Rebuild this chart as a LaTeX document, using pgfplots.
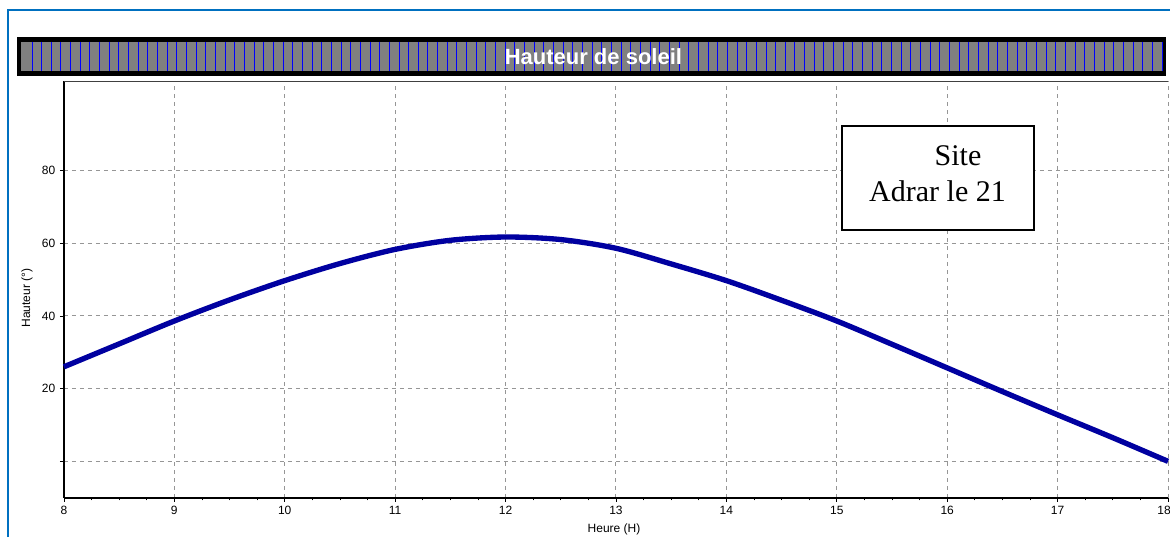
\documentclass[border=0pt]{standalone}
\usepackage{fontspec}
\setmainfont{Liberation Sans}
\newfontfamily\timesf{Liberation Serif}
\usepackage{pgfplots}
\pgfplotsset{compat=1.18}
\definecolor{framebl}{RGB}{0,112,192}
\definecolor{curveblue}{RGB}{0,0,160}
\definecolor{gridgray}{RGB}{150,150,150}
\definecolor{bargray}{RGB}{128,128,128}
\begin{document}
\begin{tikzpicture}[x=0.75pt,y=0.75pt]
\useasboundingbox (0,0) rectangle (1170,537);
\fill[white] (0,0) rectangle (1170,537);
% outer blue frame
\draw[framebl, line width=1.5pt] (7.5,0) -- (7.5,527) -- (1170,527);
% title bar
\fill[black] (17,537-37) rectangle (1166,537-76);
\fill[bargray] (21,537-41.7) rectangle (1162.5,537-71);
\foreach \i in {0,...,117} {
  \draw[blue, line width=0.75pt] ({32+\i*9.658},537-41.7) -- ({32+\i*9.658},537-71);
}
\node[text=white, font=\bfseries\fontsize{16.5}{18}\selectfont, inner sep=0pt] at (593.4,537-57) {Hauteur de soleil};
\begin{axis}[
  at={(47.925pt,29.475pt)}, anchor=south west,
  scale only axis, width=828.1pt, height=312.5pt,
  xmin=8, xmax=18, ymin=-10, ymax=104.6,
  axis lines=left,
  axis line style={-, black, line width=1.5pt},
  xtick={8,9,...,18},
  xticklabels={8,9,10,11,12,13,14,15,16,17,\hspace*{-6pt}18},
  ytick={0,20,40,60,80},
  yticklabels={,20,40,60,80},
  minor x tick num=3,
  tick align=outside,
  major tick length=3pt,
  minor tick length=2pt,
  every tick/.style={black, line width=0.6pt},
  grid=major,
  major grid style={gridgray, line width=0.75pt, dash pattern=on 3pt off 3pt},
  tick label style={font=\fontsize{9}{10}\selectfont},
  /pgf/number format/assume math mode=true,
  clip=false,
]
\addplot[curveblue, line width=4pt, smooth] coordinates {
(8.0,26.0) (8.5,32.3) (9.0,38.6) (9.5,44.4) (10.0,49.7) (10.5,54.4)
(11.0,58.3) (11.5,60.8) (12.0,61.7) (12.5,61.0) (13.0,58.6) (13.5,54.3)
(14.0,49.7) (14.5,44.3) (15.0,38.6) (15.5,32.2) (16.0,25.7) (16.5,19.2)
(17.0,12.8) (17.5,6.5) (18.0,0.0)
};
\draw[black!75, line width=0.75pt] (rel axis cs:0,1) -- (rel axis cs:1,1);
\end{axis}
% site box
\draw[black, fill=white, line width=1.5pt] (842,537-126) rectangle (1034,537-230);
\node[anchor=base, inner sep=0pt, font=\timesf\fontsize{22.5}{27}\selectfont] at (958,537-165) {Site};
\node[anchor=base, inner sep=0pt, font=\timesf\fontsize{22.5}{27}\selectfont] at (937.5,537-201.7) {Adrar le 21};
% axis labels
\node[rotate=90, inner sep=0pt, font=\fontsize{9}{10}\selectfont] at (27,537-298) {Hauteur (°)};
\node[inner sep=0pt, font=\fontsize{9}{10}\selectfont] at (614,537-529) {Heure (H)};
\end{tikzpicture}
\end{document}
